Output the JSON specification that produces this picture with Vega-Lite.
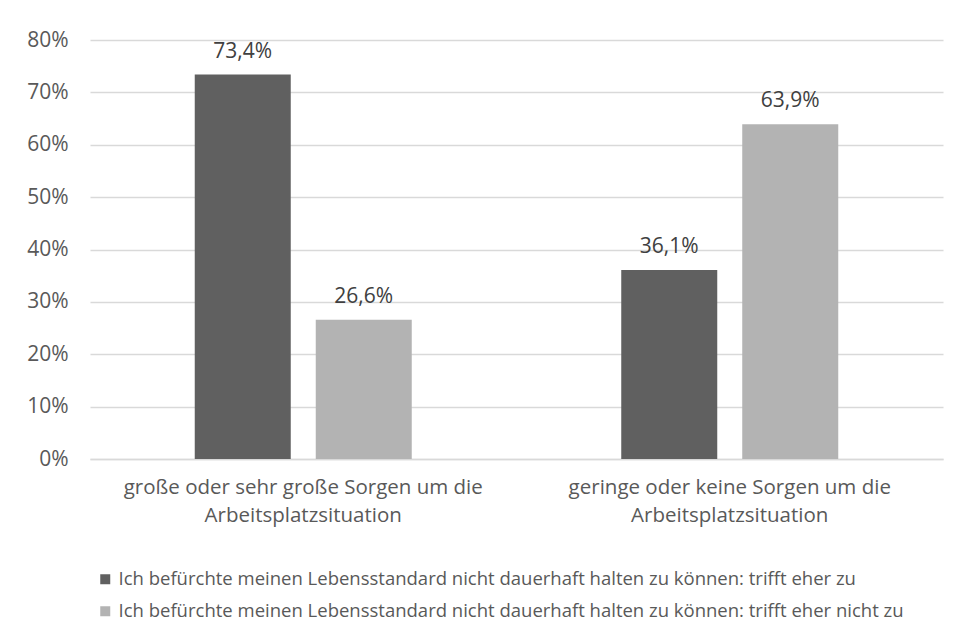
{
  "$schema": "https://vega.github.io/schema/vega-lite/v6.json",
  "width": 853,
  "height": 419,
  "autosize": {"type": "none"},
  "padding": {"left": 90, "top": 40, "right": 14, "bottom": 177},
  "background": "white",
  "data": {
    "values": [
      {"gruppe": "große oder sehr große Sorgen um die Arbeitsplatzsituation", "serie": "Ich befürchte meinen Lebensstandard nicht dauerhaft halten zu können: trifft eher zu", "wert": 0.734},
      {"gruppe": "große oder sehr große Sorgen um die Arbeitsplatzsituation", "serie": "Ich befürchte meinen Lebensstandard nicht dauerhaft halten zu können: trifft eher nicht zu", "wert": 0.266},
      {"gruppe": "geringe oder keine Sorgen um die Arbeitsplatzsituation", "serie": "Ich befürchte meinen Lebensstandard nicht dauerhaft halten zu können: trifft eher zu", "wert": 0.361},
      {"gruppe": "geringe oder keine Sorgen um die Arbeitsplatzsituation", "serie": "Ich befürchte meinen Lebensstandard nicht dauerhaft halten zu können: trifft eher nicht zu", "wert": 0.639}
    ]
  },
  "encoding": {
    "x": {
      "field": "gruppe",
      "type": "nominal",
      "sort": null,
      "scale": {"paddingInner": 0, "paddingOuter": 0},
      "axis": {
        "title": null,
        "labelAngle": 0,
        "labelFont": "Open Sans",
        "labelFontSize": 20.5,
        "labelColor": "#595959",
        "labelPadding": 18,
        "labelLineHeight": 28,
        "labelBaseline": "top",
        "labelLimit": 500,
        "labelExpr": "[replace(datum.label, ' Arbeitsplatzsituation', ''), 'Arbeitsplatzsituation']",
        "ticks": false,
        "domain": true,
        "domainColor": "#d9d9d9",
        "domainWidth": 1.5,
        "grid": false
      }
    },
    "xOffset": {
      "field": "serie",
      "type": "nominal",
      "sort": null,
      "scale": {"paddingInner": 0.2066, "paddingOuter": 0.8657}
    },
    "y": {
      "field": "wert",
      "type": "quantitative",
      "scale": {"domain": [0, 0.8]},
      "axis": {
        "title": null,
        "format": ".0%",
        "values": [0, 0.1, 0.2, 0.3, 0.4, 0.5, 0.6, 0.7, 0.8],
        "labelFont": "Open Sans",
        "labelFontSize": 21,
        "labelColor": "#595959",
        "labelPadding": 22,
        "ticks": false,
        "domain": false,
        "gridColor": "#d9d9d9",
        "gridWidth": 1.5
      }
    }
  },
  "layer": [
    {
      "mark": {"type": "bar"},
      "encoding": {
        "color": {
          "field": "serie",
          "type": "nominal",
          "sort": null,
          "scale": {"range": ["#606060", "#b3b3b3"]},
          "legend": {
            "title": null,
            "orient": "none",
            "legendX": 6,
            "legendY": 530,
            "direction": "vertical",
            "symbolType": "square",
            "symbolSize": 100,
            "symbolStrokeWidth": 0,
            "symbolOpacity": 1,
            "labelFont": "Open Sans",
            "labelFontSize": 18.5,
            "labelColor": "#595959",
            "labelOffset": 4,
            "labelLimit": 900,
            "rowPadding": 13
          }
        }
      }
    },
    {
      "mark": {"type": "text", "baseline": "alphabetic", "dy": -17, "font": "Open Sans", "fontSize": 21, "color": "#404040"},
      "encoding": {
        "text": {"field": "wert", "type": "quantitative", "format": ".1%"}
      }
    }
  ],
  "config": {
    "view": {"stroke": null},
    "locale": {
      "number": {"decimal": ",", "thousands": ".", "grouping": [3], "currency": ["", " €"]}
    }
  }
}
